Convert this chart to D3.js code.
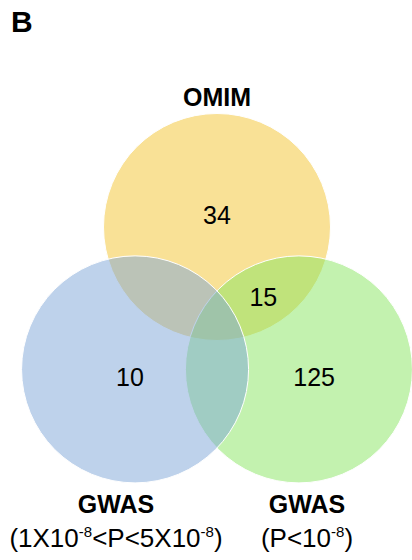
<!DOCTYPE html>
<html>
<head>
<meta charset="utf-8">
<script src="https://cdn.jsdelivr.net/npm/d3@7"></script>
<style>
html,body{margin:0;padding:0;background:#fff;}
svg{display:block;font-family:"Liberation Sans",Arial,sans-serif;}
</style>
</head>
<body>
<div id="chart"></div>
<script>
// Sets (drawn in this order), their colours and label text
const setNames = ["OMIM", "GWAS (P<10-8)", "GWAS (1X10-8<P<5X10-8)"];
const setColors = ["#f3c32d", "#87e55f", "#7da5d7"];
// Circle centres in unit layout coordinates
const setCx = [0, 0.725, -0.725];
const setCy = [0, 1.26, 1.26];
// Region counts
const regionLabels = ["34", "15", "10", "125"];
const regionX = [0, 0.41, -0.77, 0.86];
const regionY = [-0.11, 0.62, 1.33, 1.33];

const W = 412, H = 560;
const svg = d3.select("#chart").append("svg").attr("width", W).attr("height", H);

const x = d3.scaleLinear().domain([-1, 1]).range([217 - 113, 217 + 113]);
const y = d3.scaleLinear().domain([-1, 1]).range([227 - 113, 227 + 113]);
const r = 113.5;

svg.append("text").attr("x", 11).attr("y", 32)
  .attr("font-size", 30).attr("font-weight", "bold").text("B");

svg.selectAll("circle.set").data(setNames).join("circle")
  .attr("class", "set")
  .attr("cx", (d, i) => x(setCx[i]))
  .attr("cy", (d, i) => y(setCy[i]))
  .attr("r", r)
  .attr("fill", (d, i) => setColors[i])
  .attr("fill-opacity", 0.5)
  .attr("stroke", "#fff")
  .attr("stroke-width", 1);

svg.selectAll("text.count").data(regionLabels).join("text")
  .attr("class", "count")
  .attr("x", (d, i) => x(regionX[i]))
  .attr("y", (d, i) => y(regionY[i]) + 9)
  .attr("text-anchor", "middle")
  .attr("font-size", 25)
  .text(d => d);

// Set labels
svg.append("text").attr("x", x(setCx[0])).attr("y", 106)
  .attr("text-anchor", "middle").attr("font-size", 25).attr("font-weight", "bold")
  .text("OMIM");

function gwasLabel(cx, parts) {
  svg.append("text").attr("x", cx).attr("y", 513)
    .attr("text-anchor", "middle").attr("font-size", 25).attr("font-weight", "bold")
    .text("GWAS");
  const t = svg.append("text").attr("x", cx).attr("y", 547)
    .attr("text-anchor", "middle").attr("font-size", 26);
  parts.forEach(p => {
    const ts = t.append("tspan").text(p.t);
    if (p.sup) ts.attr("font-size", 15).attr("dy", -10);
    if (p.after) ts.attr("dy", 10);
  });
}
gwasLabel(116, [
  {t: "(1X10"}, {t: "-8", sup: true}, {t: "<P<5X10", after: true},
  {t: "-8", sup: true}, {t: ")", after: true}
]);
gwasLabel(307, [
  {t: "(P<10"}, {t: "-8", sup: true}, {t: ")", after: true}
]);
</script>
</body>
</html>
